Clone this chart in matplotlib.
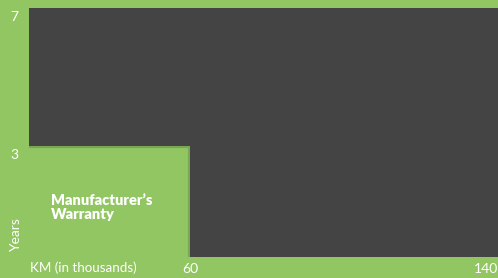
import matplotlib.pyplot as plt

# coverage steps (km in thousands, years)
km_edges = [0, 60, 140]
years_top = [7, 7, 7]
years_bottom = [3, 0, 0]
tick_years = [7, 3]
tick_km = [60, 140]

green = '#92c662'
dark = '#444444'

fig = plt.figure(figsize=(4.98, 2.78), dpi=100)
fig.patch.set_facecolor(green)
# axes covers the dark block area in pixels
ax = fig.add_axes([29 / 498, 21 / 278, 469 / 498, 249 / 278])
ax.set_facecolor(green)
ax.set_xlim(18.18, 140)
ax.set_ylim(-0.217, 7)
for s in ax.spines.values():
    s.set_visible(False)
ax.set_xticks([])
ax.set_yticks([])

# lower step reaches down to the axis floor
floor = ax.get_ylim()[0]
bottom = [b if b > 0 else floor for b in years_bottom]

# soft shadow edge then the dark block
ax.fill_between(km_edges, bottom, years_top, step='post', facecolor='none',
                edgecolor='#6f9c4c', lw=3, alpha=0.7)
ax.fill_between(km_edges, bottom, years_top, step='post', color=dark, lw=0)
ax.set_xlim(18.18, 140)
ax.set_ylim(floor, 7)

font = 'Lato'
for y in tick_years:
    ax.annotate(str(y), (ax.get_xlim()[0], y), xytext=(-8, -2),
                textcoords='offset points', ha='right', va='top',
                color='white', fontsize=10, family=font)
ax.annotate(str(tick_km[0]), (tick_km[0], floor), xytext=(0, -4),
            textcoords='offset points', ha='center', va='top',
            color='white', fontsize=10, family=font)
ax.annotate(str(tick_km[1]), (tick_km[1], floor), xytext=(0, -4),
            textcoords='offset points', ha='right', va='top',
            color='white', fontsize=10, family=font)
fig.text(30 / 498, 1 - 268 / 278, 'KM (in thousands)', ha='left', va='center',
         color='white', fontsize=9.6, family=font)
fig.text(16 / 498, 1 - 235 / 278, 'Years', ha='center', va='center',
         rotation=90, color='white', fontsize=10, family=font)
fig.text(51 / 498, 1 - 207.5 / 278, "Manufacturer\u2019s\nWarranty", ha='left',
         va='center', color='white', fontsize=10.5, fontweight='heavy',
         family=font, linespacing=1.15)

fig.savefig('out.png', facecolor=green)
